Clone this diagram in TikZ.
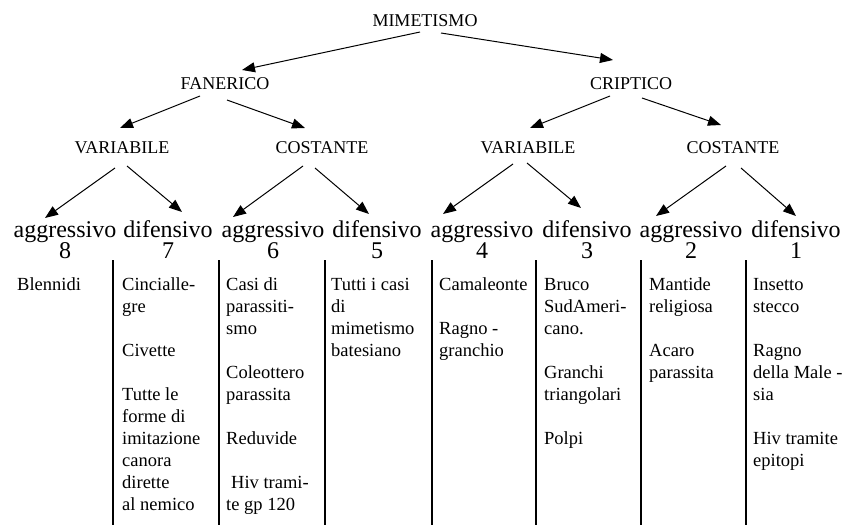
\documentclass[tikz,border=0pt]{standalone}
\usepackage{fontspec}
\setmainfont{Liberation Serif}
\usetikzlibrary{arrows.meta,calc}
\newcommand\coltxt[1]{\parbox[t]{100pt}{\raggedright #1}}
\newcommand\catlbl[2]{\vtop{\baselineskip=21pt\lineskiplimit=-20pt\halign{\hfil##\hfil\cr #1\cr #2\cr}}}
\begin{document}
\begin{tikzpicture}[x=1pt,y=-1pt,
  hd/.style={font=\fontsize{18}{20}\selectfont, inner sep=0pt, anchor=base},
  big/.style={font=\fontsize{24}{26}\selectfont, inner sep=0pt, anchor=base},
  coltext/.style={font=\fontsize{18.5}{22}\selectfont, inner sep=0pt, anchor=base west},
  arr/.style={line width=1pt, -{Triangle[length=13pt,width=10pt]}},
  colrule/.style={line width=1.2pt}]
\useasboundingbox (0,0) rectangle (844,525);
% header nodes
\node[hd] (mim)  at (425,26)  {MIMETISMO};
\node[hd] (fan)  at (225,89)  {FANERICO};
\node[hd] (cri)  at (631,89)  {CRIPTICO};
\node[hd] (var1) at (122,153) {VARIABILE};
\node[hd] (cos1) at (322,153) {COSTANTE};
\node[hd] (var2) at (528,153) {VARIABILE};
\node[hd] (cos2) at (733,153) {COSTANTE};
% category labels
\node[big] (a8) at (65,237)  {\catlbl{aggressivo}{8}};
\node[big] (d7) at (168,237) {\catlbl{difensivo}{7}};
\node[big] (a6) at (273,237) {\catlbl{aggressivo}{6}};
\node[big] (d5) at (377,237) {\catlbl{difensivo}{5}};
\node[big] (a4) at (482,237) {\catlbl{aggressivo}{4}};
\node[big] (d3) at (587,237) {\catlbl{difensivo}{3}};
\node[big] (a2) at (691,237) {\catlbl{aggressivo}{2}};
\node[big] (d1) at (796,237) {\catlbl{difensivo}{1}};
% arrows
\draw[arr] ($(mim.base)+(-5,6)$) -- ($(fan.base)+(17,-19)$);
\draw[arr] ($(mim.base)+(16,7)$) -- ($(cri.base)+(-18,-29)$);
\draw[arr] ($(fan.base)+(-25,7)$) -- ($(var1.base)+(-2,-25)$);
\draw[arr] ($(fan.base)+(2,11)$) -- ($(cos1.base)+(-17,-25)$);
\draw[arr] ($(cri.base)+(-21,7)$) -- ($(var2.base)+(2,-25)$);
\draw[arr] ($(cri.base)+(11,9)$) -- ($(cos2.base)+(-12,-28)$);
\draw[arr] ($(var1.base)+(-7,15)$) -- ($(a8.base)+(-20,-19)$);
\draw[arr] ($(var1.base)+(5,13)$) -- ($(d7.base)+(14,-25)$);
\draw[arr] ($(cos1.base)+(-19,13)$) -- ($(a6.base)+(-40,-20)$);
\draw[arr] ($(cos1.base)+(-7,15)$) -- ($(d5.base)+(-8,-23)$);
\draw[arr] ($(var2.base)+(-15,11)$) -- ($(a4.base)+(-39,-23)$);
\draw[arr] ($(var2.base)+(-1,10)$) -- ($(d3.base)+(-6,-29)$);
\draw[arr] ($(cos2.base)+(-7,13)$) -- ($(a2.base)+(-35,-21)$);
\draw[arr] ($(cos2.base)+(8,15)$) -- ($(d1.base)+(0,-21)$);
% column rules
\foreach \x in {113,219,325,432,536,641,746}
  \draw[colrule] (\x,260) -- (\x,525);
% column texts
\node[coltext] (t8) at (17,290)  {\coltxt{Blennidi}};
\node[coltext] (t7) at (122,290) {\coltxt{Cincialle-\\gre\\[22pt]Civette\\[22pt]Tutte le\\forme di\\imitazione\\canora\\dirette\\al nemico}};
\node[coltext] (t6) at (226,290) {\coltxt{Casi di\\parassiti-\\smo\\[22pt]Coleottero\\parassita\\[22pt]Reduvide\\[22pt]\hspace*{5pt}Hiv trami-\\te gp 120}};
\node[coltext] (t5) at (331,290) {\coltxt{Tutti i casi\\di\\mimetismo\\batesiano}};
\node[coltext] (t4) at (439,290) {\coltxt{Camaleonte\\[22pt]Ragno -\\granchio}};
\node[coltext] (t3) at (544,290) {\coltxt{Bruco\\SudAmeri-\\cano.\\[22pt]Granchi\\triangolari\\[22pt]Polpi}};
\node[coltext] (t2) at (649,290) {\coltxt{Mantide\\religiosa\\[22pt]Acaro\\parassita}};
\node[coltext] (t1) at (753,290) {\coltxt{Insetto\\stecco\\[22pt]Ragno\\della Male -\\sia\\[22pt]Hiv tramite\\epitopi}};
\end{tikzpicture}
\end{document}
